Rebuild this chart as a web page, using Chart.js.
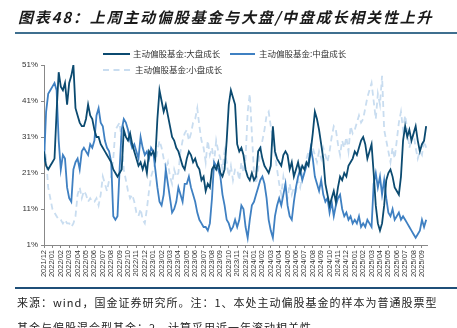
<!DOCTYPE html>
<html>
<head>
<meta charset="utf-8">
<script src="https://cdn.jsdelivr.net/npm/chart.js@4.4.1/dist/chart.umd.min.js"></script>
<style>
  html, body { margin: 0; padding: 0; background: #fff; }
  body { width: 457px; height: 328px; position: relative; overflow: hidden; font-family: "Noto Sans CJK SC", sans-serif; }
  #c { position: absolute; left: 0; top: 0; }
  .title { position: absolute; left: 18px; top: 6px; font-size: 15px; font-weight: bold; font-style: italic; letter-spacing: 1.8px; color: #1a1a1a; white-space: nowrap; }
  .rule1 { position: absolute; left: 15px; right: 0; top: 32px; height: 2px; background: #3f6f8f; }
  .rule2 { position: absolute; left: 15px; right: 0; top: 287px; height: 2px; background: #1f4f78; }
  .leg { position: absolute; font-size: 8.5px; color: #333; white-space: nowrap; }
  .sw { position: absolute; height: 0; }
  .foot { position: absolute; left: 17px; font-size: 11px; color: #222; white-space: nowrap; letter-spacing: 1px; }
</style>
</head>
<body>
<canvas id="c" width="457" height="328"></canvas>
<div class="title">图表48：上周主动偏股基金与大盘/中盘成长相关性上升</div>
<div class="rule1"></div>
<div class="sw" style="left:103px;top:53px;width:27px;border-top:2px solid #0b4a70;"></div>
<div class="leg" style="left:133px;top:47px;">主动偏股基金:大盘成长</div>
<div class="sw" style="left:230px;top:53px;width:25px;border-top:2px solid #3f80c2;"></div>
<div class="leg" style="left:259px;top:47px;">主动偏股基金:中盘成长</div>
<div class="sw" style="left:103px;top:69px;width:27px;border-top:2px dashed #c9ddf0;"></div>
<div class="leg" style="left:135px;top:63px;">主动偏股基金:小盘成长</div>
<div class="rule2"></div>
<div class="foot" style="top:294px;">来源：wind，国金证券研究所。注：1、本处主动偏股基金的样本为普通股票型</div>
<div class="foot" style="top:319px;">基金与偏股混合型基金；2、计算采用近一年滚动相关性</div>
<script>
// 月份标签（每月一个刻度）
const months = ['2021/12','2022/01','2022/02','2022/03','2022/04','2022/05','2022/06','2022/07','2022/08','2022/09','2022/10','2022/11','2022/12',
  '2023/01','2023/02','2023/03','2023/04','2023/05','2023/06','2023/07','2023/08','2023/09','2023/10','2023/11','2023/12',
  '2024/01','2024/02','2024/03','2024/04','2024/05','2024/06','2024/07','2024/08','2024/09','2024/10','2024/11','2024/12',
  '2025/01','2025/02','2025/03','2025/04','2025/05','2025/06','2025/07','2025/08','2025/09'];

// 每月约4个观测点（周度），单位 %
const largeGrowth = [
  27,23,22,23, 24,25,38,49, 45,44,46,40, 46,48,51,39, 37,35,34,34, 36,40,37,36, 33,31,31,29, 28,27,26,25,
  24,22,21,20, 21,22,33,31, 30,32,29,27, 25,23,24,22, 24,21,27,26, 27,25,36,44, 41,38,40,37, 34,31,30,28,
  27,25,23,22, 25,27,26,24, 25,23,22,19, 20,16,18,17, 22,23,22,24, 21,20,22,30, 40,44,42,40, 29,27,28,26,
  22,20,19,21, 19,20,27,28, 25,23,22,21, 23,34,27,25, 24,23,26,27, 26,22,24,20, 22,24,21,23, 22,24,23,27,
  32,38,36,33, 29,25,18,15, 12,14,16,13, 17,20,19,21, 20,23,24,25, 27,26,28,30, 31,29,25,27, 29,21,12,7,
  5,7,12,19, 21,22,20,17, 16,15,20,30, 34,31,33,30, 32,34,30,27, 29,30,34];
const midGrowth = [
  24,38,43,44, 45,46,44,30, 22,26,25,17, 14,13,22,24, 25,22,27,28, 27,26,29,28, 30,37,39,35, 34,30,28,27,
  24,9,8,9, 22,33,36,35, 33,30,28,29, 27,25,31,28, 26,27,25,28, 27,22,17,13, 12,15,22,18, 14,10,11,13,
  17,15,13,18, 18,20,17,15, 13,10,8,7, 6,6,5,7, 14,24,23,22, 20,15,12,8, 7,5,6,8, 6,8,12,11,
  6,3,8,12, 13,15,17,19, 20,18,14,8, 5,3,9,12, 14,12,15,18, 12,9,8,13, 17,20,22,19, 21,23,24,28,
  25,20,18,16, 19,15,13,14, 10,13,9,12, 14,15,11,9, 10,8,9,7, 8,7,9,6, 7,6,8,7, 6,18,21,17,
  20,15,19,14, 10,9,11,8, 9,10,8,9, 8,7,6,5, 4,3,4,5, 8,6,8];
const smallGrowth = [
  29,25,17,14, 11,10,9,8, 8,7,8,7, 7,6,7,9, 15,17,14,16, 15,13,14,13, 13,14,12,15, 20,18,16,19,
  20,25,33,34, 35,30,22,19, 16,14,15,13, 10,9,11,8, 7,11,16,20, 22,24,27,30, 28,25,22,24, 20,18,22,20,
  21,27,30,32, 33,30,32,35, 36,39,34,30, 28,24,30,26, 28,24,30,27, 25,22,27,24, 20,23,19,22, 22,19,24,21,
  25,38,43,32, 21,18,22,27, 30,33,37,38, 34,30,26,22, 18,15,20,17, 14,18,15,17, 16,19,17,20, 22,25,27,26,
  28,26,24,27, 25,28,26,24, 27,31,34,33, 29,26,30,28, 31,27,34,32, 33,35,37,35, 36,39,42,44, 46,41,36,43,
  40,48,33,30, 27,24,28,25, 30,35,38,33, 37,33,28,30, 32,28,25,27, 26,30,28];

const yTicks = [1, 11, 21, 31, 41, 51];
const perMonth = 4;

const toPoints = arr => arr.map((v, i) => ({ x: i / perMonth, y: v }));

const ctx = document.getElementById('c').getContext('2d');
const chart = new Chart(ctx, {
  type: 'line',
  data: {
    datasets: [
      { label: '主动偏股基金:大盘成长', data: toPoints(largeGrowth), borderColor: '#0b4a70', borderWidth: 1.8, pointRadius: 0, tension: 0, order: 1 },
      { label: '主动偏股基金:中盘成长', data: toPoints(midGrowth), borderColor: '#3f80c2', borderWidth: 1.8, pointRadius: 0, tension: 0, order: 2 },
      { label: '主动偏股基金:小盘成长', data: toPoints(smallGrowth), borderColor: '#c9ddf0', borderWidth: 1.8, borderDash: [6, 4], pointRadius: 0, tension: 0, order: 3 }
    ]
  },
  options: {
    responsive: false,
    animation: false,
    devicePixelRatio: 1,
    layout: { padding: { top: 65, right: 30, bottom: 38, left: 0 } },
    plugins: { legend: { display: false }, tooltip: { enabled: false } },
    scales: {
      x: {
        type: 'linear',
        min: 0,
        max: 45.6,
        afterFit: s => { s.height = 45; },
        grid: { drawOnChartArea: false, color: '#888', tickLength: 3 },
        border: { color: '#888' },
        ticks: {
          stepSize: 1,
          includeBounds: false,
          autoSkip: false,
          maxRotation: 90,
          minRotation: 90,
          padding: 2,
          color: '#333',
          font: { family: 'Liberation Sans', size: 7.5 },
          callback: v => months[v] || ''
        }
      },
      y: {
        min: 1,
        max: 51,
        afterFit: s => { s.width = 44; },
        grid: { drawOnChartArea: false, color: '#888', tickLength: 3 },
        border: { color: '#888' },
        afterBuildTicks: s => { s.ticks = yTicks.map(v => ({ value: v })); },
        ticks: {
          padding: 3,
          color: '#333',
          font: { family: 'Liberation Sans', size: 8 },
          callback: v => v + '%'
        }
      }
    }
  }
});
</script>
</body>
</html>
